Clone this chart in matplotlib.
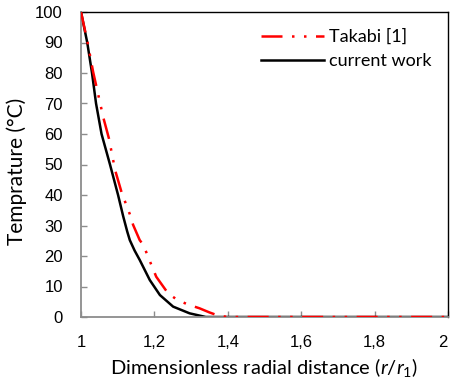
import matplotlib
matplotlib.use("Agg")
import matplotlib.pyplot as plt

# Data
takabi_r = [1.0, 1.018, 1.033, 1.054, 1.061, 1.076, 1.089, 1.095, 1.111, 1.122, 1.133,
            1.142, 1.160, 1.170, 1.192, 1.205, 1.237, 1.26, 1.289, 1.323, 1.35, 1.373,
            1.4, 1.6, 1.8, 2.0]
takabi_T = [100, 90, 80.4, 69.1, 65.3, 58.6, 50.6, 47.3, 40.7, 37.2, 33.7,
            30.2, 25.2, 23.6, 17.0, 13.2, 7.8, 5.8, 4.2, 2.85, 1.5, 0.5,
            0, 0, 0, 0]

current_r = [1.0, 1.017, 1.030, 1.041, 1.056, 1.079, 1.101, 1.115, 1.126, 1.133, 1.146,
             1.160, 1.1875, 1.215, 1.251, 1.296, 1.34, 1.4, 2.0]
current_T = [100, 90, 80, 70, 60, 50, 40, 33, 28.0, 25.2, 21.8,
             18.7, 12.1, 7.2, 3.4, 1.2, 0, 0, 0]

xticks = [1.0, 1.2, 1.4, 1.6, 1.8, 2.0]
xtick_labels = ["1", "1,2", "1,4", "1,6", "1,8", "2"]
yticks = list(range(0, 101, 10))

plt.rcParams['mathtext.fontset'] = 'custom'
plt.rcParams['mathtext.rm'] = 'Lato'
plt.rcParams['mathtext.it'] = 'Lato:italic'

fig = plt.figure(figsize=(4.52, 3.81), dpi=100)
ax = fig.add_axes([81/452, 1-317/381, (448-81)/452, (317-12)/381])

ax.plot(takabi_r, takabi_T, color='#ff0000', lw=1.8,
        linestyle=(0, (8.4, 3.8, 1, 3.8, 1, 3.8)), label='Takabi [1]', zorder=3)
ax.plot(current_r, current_T, color='black', lw=1.8, label='current work',
        solid_joinstyle='round', zorder=2)

ax.set_xlim(1, 2)
ax.set_ylim(0, 100)
ax.set_xticks(xticks)
ax.set_xticklabels(xtick_labels)
ax.set_yticks(yticks)

gray = '#8c8c8c'
for s in ['left', 'bottom']:
    ax.spines[s].set_color(gray)
    ax.spines[s].set_linewidth(1.3)
for s in ['top', 'right']:
    ax.spines[s].set_color('black')
    ax.spines[s].set_linewidth(1.0)

ax.tick_params(axis='both', direction='in', length=4, width=1, color=gray,
               labelsize=12)
ax.tick_params(axis='y', pad=13)
ax.tick_params(axis='x', pad=13)
for lab in ax.get_xticklabels() + ax.get_yticklabels():
    lab.set_family('Liberation Sans')
ax.get_xticklabels()[-1].set_ha('right')

ax.set_xlabel("Dimensionless radial distance ($r$/$r_1$)", family='Lato',
              fontsize=14.5)
ax.xaxis.set_label_coords((264 - 81) / 367, (317 - 379) / 305)
ax.xaxis.label.set_va('bottom')
ax.set_ylabel("Temprature (°C)", family='Lato', fontsize=15)
ax.yaxis.set_label_coords((27 - 81) / 367, (317 - 171.5) / 305)

leg = ax.legend(loc='upper left', bbox_to_anchor=(261/452, 1-29/381),
                bbox_transform=fig.transFigure, frameon=False,
                prop={'family': 'Lato', 'size': 13}, handlelength=3.5,
                handletextpad=0.25, borderpad=0, borderaxespad=0, labelspacing=0.45)

fig.savefig("out.png", dpi=100)
